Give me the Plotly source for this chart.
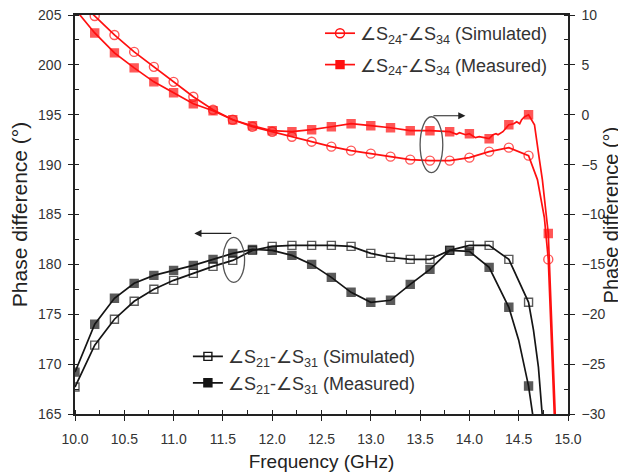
import plotly.graph_objects as go

# ---------------- data ----------------
# S21-S31 simulated (left axis)
f_sim21 = [10.0, 10.2, 10.4, 10.6, 10.8, 11.0, 11.2, 11.4, 11.6, 11.8, 12.0, 12.2,
           12.4, 12.6, 12.8, 13.0, 13.2, 13.4, 13.6, 13.8, 14.0, 14.2, 14.4, 14.6,
           14.65, 14.7, 14.75]
v_sim21 = [167.7, 171.9, 174.5, 176.3, 177.5, 178.4, 179.1, 179.8, 180.4, 181.4, 181.8, 181.9,
           181.9, 181.9, 181.8, 181.1, 180.7, 180.5, 180.5, 181.4, 181.9, 181.9, 180.5, 176.2,
           173.4, 169.7, 163.5]
m_sim21 = [1] * 24 + [0, 0, 0]

# S21-S31 measured (left axis)
f_mea21 = [10.0, 10.2, 10.4, 10.6, 10.8, 11.0, 11.2, 11.4, 11.6, 11.8, 12.0, 12.2,
           12.4, 12.6, 12.8, 13.0, 13.2, 13.4, 13.6, 13.8, 14.0, 14.2, 14.4, 14.5,
           14.6, 14.65]
v_mea21 = [169.2, 174.0, 176.6, 178.1, 178.9, 179.4, 179.9, 180.5, 181.1, 181.5, 181.4, 180.9,
           180.0, 178.7, 177.2, 176.2, 176.4, 178.0, 179.5, 181.4, 181.3, 179.7, 175.7, 172.4,
           167.8, 164.4]
m_mea21 = [1] * 23 + [0, 1, 0]

# S24-S34 simulated (right axis)
f_sim24 = [10.0, 10.2, 10.4, 10.6, 10.8, 11.0, 11.2, 11.4, 11.6, 11.8, 12.0, 12.2,
           12.4, 12.6, 12.8, 13.0, 13.2, 13.4, 13.6, 13.8, 14.0, 14.2, 14.4, 14.6,
           14.69, 14.76, 14.8, 14.9]
v_sim24 = [11.8, 9.9, 8.0, 6.3, 4.8, 3.3, 1.8, 0.5, -0.5, -1.2, -1.7, -2.2,
           -2.7, -3.2, -3.6, -3.9, -4.2, -4.5, -4.6, -4.6, -4.3, -3.7, -3.3, -4.1,
           -6.5, -10.3, -14.5, -40.0]
m_sim24 = [0] + [1] * 23 + [0, 0, 1, 0]

# S24-S34 measured (right axis)
f_mea24 = [10.0, 10.2, 10.4, 10.6, 10.8, 11.0, 11.2, 11.4, 11.6, 11.8, 12.0, 12.2,
           12.4, 12.6, 12.8, 13.0, 13.2, 13.4, 13.6, 13.8, 13.87, 13.9, 13.96, 14.0,
           14.06, 14.1, 14.2, 14.24, 14.27, 14.29, 14.32, 14.34, 14.4, 14.45, 14.48,
           14.51, 14.53, 14.56, 14.6, 14.66, 14.71, 14.74, 14.8, 14.9]
v_mea24 = [10.6, 8.2, 6.2, 4.7, 3.3, 2.2, 1.1, 0.4, -0.5, -1.1, -1.6, -1.7,
           -1.5, -1.2, -0.9, -1.1, -1.3, -1.6, -1.6, -1.7, -1.96, -1.8, -2.0, -1.9,
           -2.3, -2.2, -2.4, -2.0, -1.9, -2.0, -1.8, -1.7, -1.0, -0.9, -0.7,
           -0.9, -0.5, -0.2, 0.0, -1.0, -4.5, -6.5, -11.9, -37.7]
m_mea24 = [0] + [1] * 19 + [0, 0, 0, 1, 0, 0, 1, 0, 0, 0, 0, 0, 1, 0, 0, 0, 0, 0, 1, 0, 0, 0, 1, 0]

x_ticks = [10.0, 10.5, 11.0, 11.5, 12.0, 12.5, 13.0, 13.5, 14.0, 14.5, 15.0]
y_left_ticks = [165, 170, 175, 180, 185, 190, 195, 200, 205]
y_right_ticks = [-30, -25, -20, -15, -10, -5, 0, 5, 10]

name_sim24 = "∠S<sub>24</sub>-∠S<sub>34</sub> (Simulated)"
name_mea24 = "∠S<sub>24</sub>-∠S<sub>34</sub> (Measured)"
name_sim21 = "∠S<sub>21</sub>-∠S<sub>31</sub> (Simulated)"
name_mea21 = "∠S<sub>21</sub>-∠S<sub>31</sub> (Measured)"
y_title = "Phase difference (°)"
x_title = "Frequency (GHz)"

RED = "#ff1010"
BLACK = "#151515"
FONT = "Liberation Sans"

def sizes(mask, s):
    return [s if m else 0 for m in mask]

fig = go.Figure()

series = [
    (f_sim24, v_sim24, m_sim24, "y2", RED, "circle-open", 9, name_sim24, "legend", "a"),
    (f_mea24, v_mea24, m_mea24, "y2", RED, "square", 8, name_mea24, "legend", "b"),
    (f_sim21, v_sim21, m_sim21, "y", BLACK, "square-open", 8, name_sim21, "legend2", "c"),
    (f_mea21, v_mea21, m_mea21, "y", BLACK, "square", 8, name_mea21, "legend2", "d"),
]

for fx, fy, mask, ax, col, sym, sz, nm, lg, grp in series:
    mk = dict(symbol=sym, color=col, line=dict(width=1.4, color=col))
    fig.add_trace(go.Scatter(
        x=fx, y=fy, yaxis=ax, mode="lines+markers", showlegend=False,
        legendgroup=grp, name=nm,
        line=dict(color=col, width=1.7),
        marker=dict(mk, size=sizes(mask, sz)),
    ))
    # legend entry (no data of its own)
    fig.add_trace(go.Scatter(
        x=[None], y=[None], yaxis=ax, mode="lines+markers", name=nm,
        legend=lg, legendgroup=grp,
        line=dict(color=col, width=1.7),
        marker=dict(mk, size=sz),
    ))

tickfont = dict(family=FONT, size=14, color="#333")
titlefont = dict(family=FONT, size=19, color="#222")
vtitlefont = dict(family=FONT, size=21, color="#222")
legfont = dict(family=FONT, size=18, color="#333")

common = dict(showline=True, linecolor="#222", linewidth=1.5,
              ticks="outside", ticklen=5, tickwidth=1.3, tickcolor="#222",
              showgrid=False, zeroline=False, tickfont=tickfont, automargin=False,
              ticklabeloverflow="allow")

fig.update_layout(
    width=626, height=476,
    margin=dict(l=67, r=66, t=7, b=70),
    paper_bgcolor="white", plot_bgcolor="white",
    font=dict(family=FONT, color="#222"),
    xaxis=dict(
        common, range=[10.0, 15.0], tickvals=x_ticks, ticktext=[f"{v:.1f}" for v in x_ticks],
        mirror=True, ticklabelstandoff=6,
        minor=dict(dtick=0.25, tick0=10.0, ticks="inside", ticklen=4, tickwidth=1.2, tickcolor="#222"),
        title=dict(text=x_title, font=titlefont, standoff=9),
    ),
    yaxis=dict(
        common, range=[165, 205], tickvals=y_left_ticks, ticklabelstandoff=4,
        minor=dict(dtick=2.5, tick0=165, ticks="inside", ticklen=4, tickwidth=1.2, tickcolor="#222"),
        title=dict(text=y_title, font=vtitlefont, standoff=8),
    ),
    yaxis2=dict(
        common, range=[-30, 10], tickvals=y_right_ticks, overlaying="y", side="right",
        ticklabelstandoff=4,
        minor=dict(dtick=2.5, tick0=-30, ticks="inside", ticklen=4, tickwidth=1.2, tickcolor="#222"),
    ),
    legend=dict(x=0.497, y=1.0, xanchor="left", yanchor="top",
                bgcolor="rgba(0,0,0,0)", font=legfont,
                traceorder="grouped", tracegroupgap=5),
    legend2=dict(x=0.229, y=0.19, xanchor="left", yanchor="top",
                 bgcolor="rgba(0,0,0,0)", font=legfont,
                 traceorder="grouped", tracegroupgap=0),
    shapes=[
        dict(type="circle", xref="x", yref="y", x0=13.50, x1=13.73, y0=189.2, y1=194.8,
             line=dict(color="#555", width=1.3)),
        dict(type="circle", xref="x", yref="y", x0=11.50, x1=11.72, y0=178.2, y1=182.7,
             line=dict(color="#555", width=1.3)),
    ],
    annotations=[
        dict(x=13.96, y=194.9, ax=13.62, ay=194.9, xref="x", yref="y", axref="x", ayref="y",
             text="", showarrow=True, arrowhead=2, arrowsize=1.2, arrowwidth=1.2, arrowcolor="#222"),
        dict(x=11.21, y=183.1, ax=11.60, ay=183.1, xref="x", yref="y", axref="x", ayref="y",
             text="", showarrow=True, arrowhead=2, arrowsize=1.2, arrowwidth=1.2, arrowcolor="#222"),
        # right-hand axis title
        dict(x=1.087, y=0.5, xref="paper", yref="paper", xanchor="center", yanchor="middle",
             text=y_title, textangle=-90, showarrow=False,
             font=dict(family=FONT, size=20, color="#222")),
    ],
)

fig.write_html("out.html")
